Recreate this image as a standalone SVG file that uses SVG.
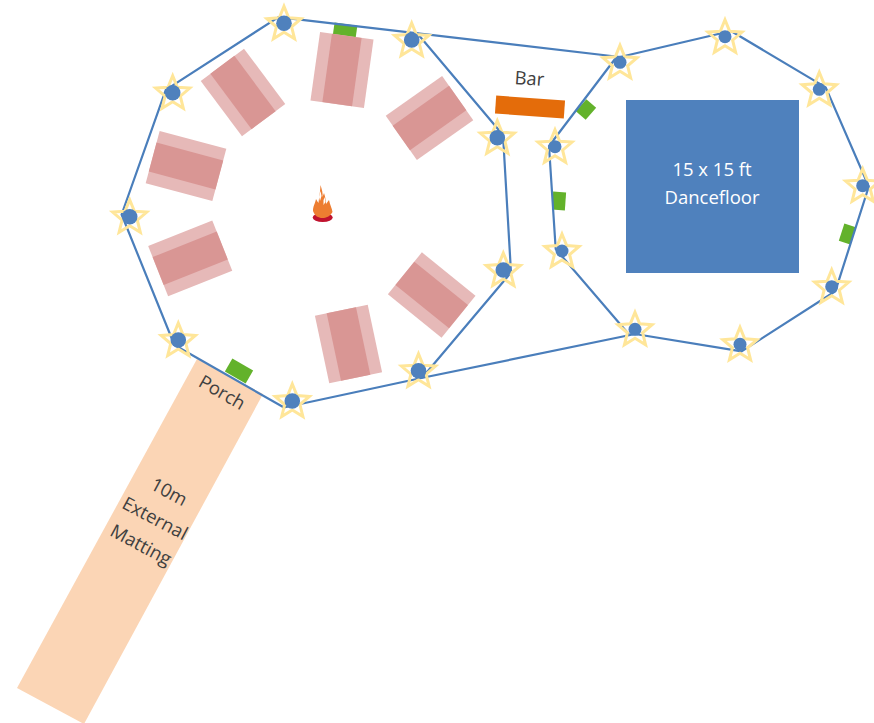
<svg xmlns="http://www.w3.org/2000/svg" width="874" height="723" viewBox="0 0 874 723">
<style>
.ring{fill:none;stroke:#4A7EBB;stroke-width:2.2;stroke-linejoin:round}
.door{fill:#63B22B}
.outer{fill:#E6B9B8}
.inner{fill:#D99694}
.star{fill:none;stroke:#FFE699;stroke-width:3}
.dot{fill:#4F81BD}
text{font-family:"Open Sans","Noto Sans",sans-serif;font-size:18.500px;text-anchor:middle}
.dark{fill:#404040}
.light{fill:#fff}
</style>
<defs>
<g id="table"><rect class="outer" x="-27" y="-34.500" width="54" height="69"/><rect class="inner" x="-15" y="-34.500" width="30" height="69"/></g>
<path id="star" class="star" d="M0,-17 L4.700,-5.500 L17.100,-4.600 L7.600,3.500 L10.600,15.500 L0,9 L-10.600,15.500 L-7.600,3.500 L-17.100,-4.600 L-4.700,-5.500 Z"/>
<g id="post"><use href="#star"/><circle class="dot" r="7.800"/></g>
<g id="post2"><use href="#star"/><circle class="dot" r="6.500"/></g>
</defs>
<g id="matting">
<polygon points="197,359 263,394 84,724 17,688" fill="#FBD5B5"/>
<text class="dark" transform="translate(219,398) rotate(30)">Porch</text>
<g transform="translate(152,524) rotate(28)"><text class="dark" y="-30">10m</text><text class="dark" y="0">External</text><text class="dark" y="30">Matting</text></g>
</g>
<g id="doors">
<rect class="door" x="-11.500" y="-7" width="23" height="14" transform="translate(345,31) rotate(8)"/>
<rect class="door" x="-6.500" y="-8" width="13" height="16" transform="translate(586,109.500) rotate(41)"/>
<rect class="door" x="-6.500" y="-9" width="13" height="18" transform="translate(559,201) rotate(4)"/>
<rect class="door" x="-6" y="-9" width="12" height="18" transform="translate(847.300,234) rotate(18)"/>
<rect class="door" x="-12" y="-7.500" width="24" height="15" transform="translate(239,371) rotate(30)"/>
</g>
<g id="connectors">
<polygon class="ring" points="278.500,17.100 620,57 731,31 825.700,87.400 868.800,186.500 835.300,291.300 741.600,351.400 635,334 419,378.500 284,407.500 174.400,345 121.600,214.500 165.800,89.800"/>
<polyline class="ring" points="417,33 503,135 511,272.500 422,378"/>
<polyline class="ring" points="616.500,57 549,146 555.700,249 629,334.500"/>
</g>
<g id="tables">
<use href="#table" transform="translate(342,70) rotate(8)"/>
<use href="#table" transform="translate(243,92.500) rotate(-36.700)"/>
<use href="#table" transform="translate(186,166) rotate(-75)"/>
<use href="#table" transform="translate(190.200,258.300) rotate(68.300)"/>
<use href="#table" transform="translate(429.500,118) rotate(54.800)"/>
<use href="#table" transform="translate(431.700,295) rotate(-51)"/>
<use href="#table" transform="translate(348.500,344) rotate(-12)"/>
</g>
<g id="fire">
<ellipse cx="322.700" cy="217.500" rx="10" ry="4.500" fill="#C0122E"/>
<path d="M313,211 C313,206 315,204 316,199 C317,201 318,202 318.500,203 C319,198 320,194 320.500,185 C322,190 323,193 322.500,197 L324,193 C325,196 326,200 326,204 L329,200 C330,205 332,208 332.500,212 C330,216.500 326,218 322.500,218 C318,218 315,216 313,211 Z" fill="#ED7D31"/>
<path d="M320.500,191 L321.500,196 L320,201 L319,197 Z M325,197 L325.500,202 L323.500,205 L323.500,200 Z" fill="#fff"/>
</g>
<g id="bar">
<rect x="-34.500" y="-9" width="69" height="18" fill="#E46C0A" transform="translate(530,107) rotate(4)"/>
<text class="dark" transform="translate(529,85) rotate(4)">Bar</text>
</g>
<g id="dancefloor">
<rect x="626" y="100" width="173" height="173" fill="#4F81BD"/>
<text class="light" x="712" y="176">15 x 15 ft</text>
<text class="light" x="712" y="204">Dancefloor</text>
</g>
<g id="posts">
<use href="#post" x="284" y="23.300"/><use href="#post" x="172.700" y="92.700"/><use href="#post" x="129.700" y="216.700"/><use href="#post" x="178.300" y="340"/><use href="#post" x="292.300" y="401"/><use href="#post" x="418.500" y="370.700"/><use href="#post" x="503.300" y="270"/><use href="#post" x="497.300" y="137.700"/><use href="#post" x="411.700" y="40"/>
<use href="#post2" x="620" y="62.300"/><use href="#post2" x="725" y="36.700"/><use href="#post2" x="819.300" y="89.300"/><use href="#post2" x="862.700" y="185.700"/><use href="#post2" x="831.700" y="286.700"/><use href="#post2" x="740" y="344.300"/><use href="#post2" x="635" y="329.300"/><use href="#post2" x="562" y="251"/><use href="#post2" x="555" y="146.700"/>
</g>
</svg>
